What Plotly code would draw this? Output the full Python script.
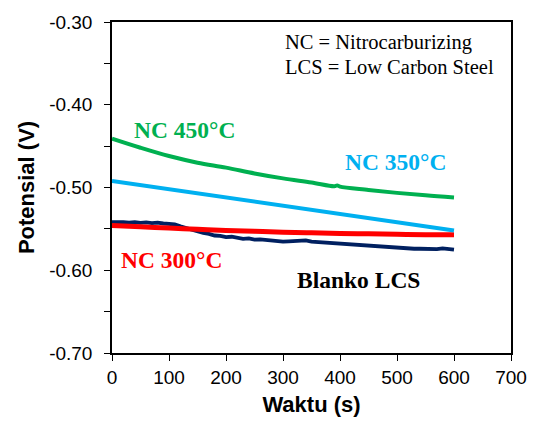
import plotly.graph_objects as go

# Open-circuit potential vs time for nitrocarburized and untreated low carbon steel
t_blanko = list(range(0, 601, 10))
v_blanko = [-0.5420, -0.5415, -0.5420, -0.5425, -0.5420, -0.5428, -0.5422, -0.5430, -0.5425, -0.5435,
            -0.5440, -0.5445, -0.5470, -0.5490, -0.5520, -0.5535, -0.5550, -0.5560, -0.5580, -0.5585,
            -0.5600, -0.5595, -0.5610, -0.5620, -0.5615, -0.5630, -0.5628, -0.5635, -0.5645, -0.5650,
            -0.5655, -0.5650, -0.5648, -0.5645, -0.5640, -0.5655, -0.5660, -0.5665, -0.5670, -0.5675,
            -0.5680, -0.5685, -0.5690, -0.5695, -0.5700, -0.5705, -0.5710, -0.5718, -0.5720, -0.5725,
            -0.5728, -0.5730, -0.5735, -0.5740, -0.5740, -0.5745, -0.5748, -0.5745, -0.5735, -0.5745,
            -0.5750]

t_300 = [0, 50, 100, 150, 200, 250, 300, 350, 400, 450, 500, 550, 600]
v_300 = [-0.5460, -0.5475, -0.5490, -0.5505, -0.5520, -0.5530, -0.5540, -0.5548, -0.5555, -0.5560,
         -0.5565, -0.5570, -0.5570]

t_350 = [0, 100, 200, 300, 400, 500, 600]
v_350 = [-0.492, -0.502, -0.512, -0.522, -0.532, -0.542, -0.552]

t_450 = [0, 50, 100, 150, 200, 250, 300, 350, 390, 395, 400, 450, 500, 550, 600]
v_450 = [-0.441, -0.452, -0.462, -0.470, -0.476, -0.483, -0.489, -0.494, -0.4985, -0.4975, -0.499,
         -0.503, -0.5065, -0.5095, -0.512]

x_ticks = [0, 100, 200, 300, 400, 500, 600, 700]
y_ticks = [-0.70, -0.60, -0.50, -0.40, -0.30]
y_ticktext = ["-0.70", "-0.60", "-0.50", "-0.40", "-0.30"]

fig = go.Figure()
fig.add_trace(go.Scatter(x=t_blanko, y=v_blanko, mode="lines", name="Blanko LCS",
                         line=dict(color="#002060", width=3.8)))
fig.add_trace(go.Scatter(x=t_300, y=v_300, mode="lines", name="NC 300°C",
                         line=dict(color="#FF0000", width=5, shape="spline")))
fig.add_trace(go.Scatter(x=t_350, y=v_350, mode="lines", name="NC 350°C",
                         line=dict(color="#00B0F0", width=4)))
fig.add_trace(go.Scatter(x=t_450, y=v_450, mode="lines", name="NC 450°C",
                         line=dict(color="#00B050", width=4, shape="spline")))

serif = "Liberation Serif, Times New Roman, serif"
labels = [
    ("NC 450°C", 127, -0.430, "#00B050"),
    ("NC 350°C", 497, -0.4687, "#00B0F0"),
    ("NC 300°C", 105, -0.588, "#FF0000"),
    ("Blanko LCS", 432, -0.6117, "#000000"),
]
for text, x, y, color in labels:
    fig.add_annotation(x=x, y=y, xref="x", yref="y", text=f"<b>{text}</b>", showarrow=False,
                       xanchor="center", yanchor="middle",
                       font=dict(family=serif, size=23.5, color=color))

fig.add_annotation(x=300, y=-0.3244, xref="x", yref="y", text="NC = Nitrocarburizing",
                   showarrow=False, xanchor="left", yanchor="middle",
                   font=dict(family=serif, size=20.5, color="#000000"))
fig.add_annotation(x=300, y=-0.3539, xref="x", yref="y", text="LCS = Low Carbon Steel",
                   showarrow=False, xanchor="left", yanchor="middle",
                   font=dict(family=serif, size=20.5, color="#000000"))

axis_font = dict(family="Liberation Sans, Arial, sans-serif", size=19, color="#000000")
title_font = dict(family="Liberation Sans, Arial, sans-serif", size=22, color="#000000")

fig.update_xaxes(range=[0, 700], tickvals=x_ticks, ticks="outside", ticklen=6, tickcolor="#000000",
                 showline=True, linecolor="#000000", linewidth=1.5, mirror=True, showgrid=False,
                 zeroline=False, tickfont=axis_font,
                 title=dict(text="<b>Waktu (s)</b>", font=title_font, standoff=10))
fig.update_yaxes(range=[-0.70, -0.30], tickvals=y_ticks, ticktext=y_ticktext, ticks="outside", ticklen=6,
                 tickcolor="#000000", showline=True, linecolor="#000000", linewidth=1.5, mirror=True,
                 showgrid=False, zeroline=False, tickfont=axis_font, ticklabelstandoff=8,
                 minor=dict(dtick=0.05, ticks="outside", ticklen=6, tickcolor="#000000", showgrid=False),
                 title=dict(text="<b>Potensial (V)</b>", font=title_font, standoff=8))

fig.update_layout(width=539, height=425, margin=dict(l=112, r=18, t=22, b=71),
                  paper_bgcolor="#FFFFFF", plot_bgcolor="#FFFFFF", showlegend=False)

fig.write_html("out.html")
